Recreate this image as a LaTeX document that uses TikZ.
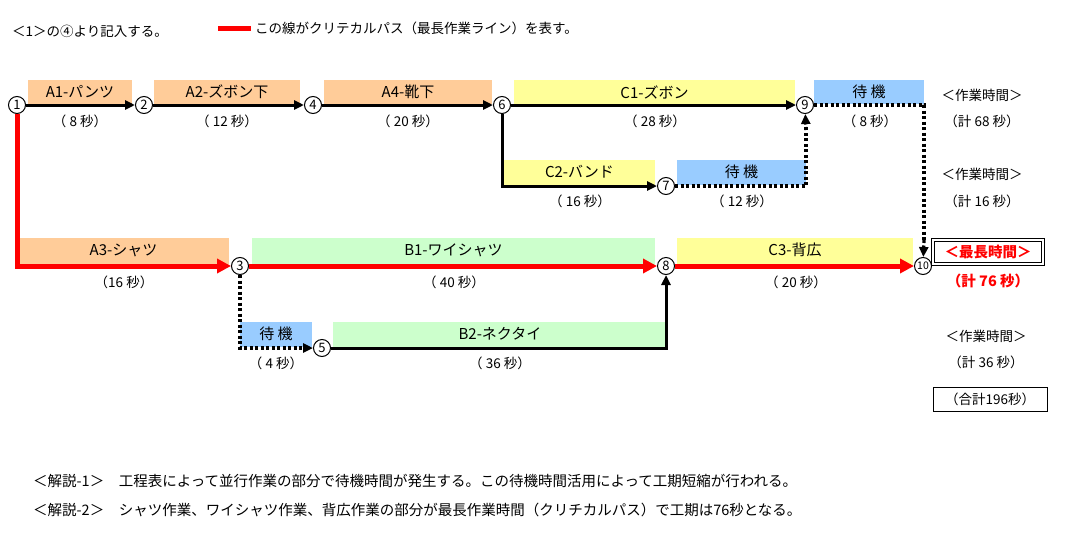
\documentclass[tikz,border=0pt]{standalone}
\usepackage{fontspec}
\setmainfont{Noto Sans CJK JP}
\usetikzlibrary{arrows.meta,calc}
\definecolor{org}{HTML}{FFCC99}
\definecolor{yel}{HTML}{FFFF99}
\definecolor{blu}{HTML}{99CCFF}
\definecolor{grn}{HTML}{CCFFCC}
\definecolor{rd}{HTML}{FF0000}
\begin{document}
\begin{tikzpicture}[x=1pt,y=-1pt,font=\fontsize{13.5}{15}\selectfont,
  ev/.style={circle,draw,line width=1pt,fill=white,inner sep=0pt,minimum size=17pt,font=\fontsize{13}{13}\selectfont},
  lbl/.style={inner sep=0pt},
  blk/.style={draw,line width=3pt,-{Triangle[length=10pt,width=9pt]}},
  dot/.style={draw,line width=3.2pt,dash pattern=on 3pt off 2.5pt},
  crit/.style={draw=rd,line width=5pt},
  crita/.style={crit,-{Triangle[length=14pt,width=14pt]}}]
\useasboundingbox (0,0) rectangle (1065,546);
% bars
\def\bar#1#2#3#4#5#6#7{\fill[#7] (#1,#2) rectangle (#3,#4); \node[lbl,font=\fontsize{15}{17}\selectfont] (#6) at ({(#1+#3)/2},{#2+12}) {#5};}
\bar{28}{80}{132}{104}{A1-パンツ}{t1}{org}
\bar{154}{80}{300}{104}{A2-ズボン下}{t2}{org}
\bar{324}{80}{492}{104}{A4-靴下}{t4}{org}
\bar{514}{80}{795}{104}{C1-ズボン}{tc1}{yel}
\bar{814}{80}{924}{104}{待\ 機}{tw9}{blu}
\bar{504}{160}{655}{185}{C2-バンド}{tc2}{yel}
\bar{677}{160}{806}{185}{待\ 機}{tw7}{blu}
\bar{18}{238}{229}{265}{A3-シャツ}{ta3}{org}
\bar{252}{238}{655}{265}{B1-ワイシャツ}{tb1}{grn}
\bar{677}{238}{913}{265}{C3-背広}{tc3}{yel}
\bar{240}{322}{312}{347}{待\ 機}{tw5}{blu}
\bar{333}{322}{667}{348}{B2-ネクタイ}{tb2}{grn}
% durations
\node[lbl] (d1) at (80,121) {（ 8 秒）};
\node[lbl] (d2) at (227,121) {（ 12 秒）};
\node[lbl] (d4) at (408,121) {（ 20 秒）};
\node[lbl] (dc1) at (655,121) {（ 28 秒）};
\node[lbl] (dw9) at (870,121) {（ 8 秒）};
\node[lbl] (dc2) at (580,201) {（ 16 秒）};
\node[lbl] (dw7) at (742,201) {（ 12 秒）};
\node[lbl] (da3) at (124,282) {（16 秒）};
\node[lbl] (db1) at (454,282) {（ 40 秒）};
\node[lbl] (dc3) at (796,282) {（ 20 秒）};
\node[lbl] (dw5) at (276,363) {（ 4 秒）};
\node[lbl] (db2) at (500,363) {（ 36 秒）};
% events
\node[ev] (n1) at (17,105) {1};
\node[ev] (n2) at (144,105) {2};
\node[ev] (n4) at (313,105) {4};
\node[ev] (n6) at (502,105) {6};
\node[ev] (n9) at (805,105) {9};
\node[ev] (n7) at (666,186) {7};
\node[ev] (n3) at (240,266) {3};
\node[ev] (n8) at (666,266) {8};
\node[ev,font=\fontsize{10.5}{10}\selectfont] (n10) at (923,266) {10};
\node[ev] (n5) at (322,348) {5};
% connectors
\draw[blk] (n1) -- (n2);
\draw[blk] (n2) -- (n4);
\draw[blk] (n4) -- (n6);
\draw[blk] (n6) -- (n9);
\draw[blk] (n6) |- (n7);
\draw[dot] (n7.east) -| (806,125);
\draw[dot,-{Triangle[length=10pt,width=9pt]}] (806,130) -- (n9);
\draw[dot] (n9.east) -| (924,240);
\draw[dot,-{Triangle[length=10pt,width=9pt]}] (924,240) -- (n10);
\draw[dot,-{Triangle[length=10pt,width=9pt]}] (n3) |- (n5);
\draw[blk] (n5) -| (n8);
\draw[crita] (n1) |- (n3);
\draw[crita] (n3) -- (n8);
\draw[crita] (n8) -- (n10);
% right side
\node[lbl] (r1) at (982,95) {＜作業時間＞};
\node[lbl] (r2) at (982,121) {（計 68 秒）};
\node[lbl] (r3) at (982,174) {＜作業時間＞};
\node[lbl] (r4) at (982,201) {（計 16 秒）};
\node[text=rd,inner sep=0pt,minimum width=106pt,minimum height=20pt,font=\fontsize{14.5}{16}\selectfont\bfseries] (r5) at (988,252) {＜最長時間＞};
\draw[line width=0.8pt] ($(r5.north west)+(-3,-3)$) rectangle ($(r5.south east)+(3,3)$);
\draw[line width=1.2pt] (r5.north west) rectangle (r5.south east);
\node[lbl,text=rd,font=\fontsize{14.5}{16}\selectfont\bfseries] (r6) at (988,281) {（計 76 秒）};
\node[lbl] (r7) at (986,336) {＜作業時間＞};
\node[lbl] (r8) at (986,362) {（計 36 秒）};
\node[draw,line width=0.9pt,inner sep=3pt,minimum width=114pt,minimum height=24pt] (r9) at (990,399) {（合計196秒）};
% top
\node[lbl,anchor=west] (h1) at (12,31) {＜1＞の④より記入する。};
\coordinate (ls) at (218,28); \coordinate (le) at (251,28);
\draw[crit] (ls) -- (le);
\node[lbl,anchor=west] (h2) at (255,28) {この線がクリテカルパス（最長作業ライン）を表す。};
% bottom
\node[lbl,anchor=west,font=\fontsize{14.5}{16}\selectfont] (b1) at (33,481) {＜解説-1＞　工程表によって並行作業の部分で待機時間が発生する。この待機時間活用によって工期短縮が行われる。};
\node[lbl,anchor=west,font=\fontsize{14.5}{16}\selectfont] (b2) at (33,510) {＜解説-2＞　シャツ作業、ワイシャツ作業、背広作業の部分が最長作業時間（クリチカルパス）で工期は76秒となる。};
\end{tikzpicture}
\end{document}
